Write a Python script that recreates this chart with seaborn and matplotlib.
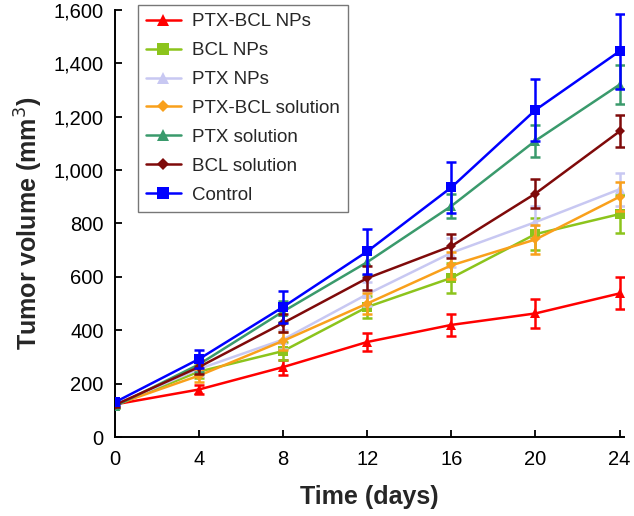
import numpy as np
import pandas as pd
import matplotlib
matplotlib.use('Agg')
import matplotlib.pyplot as plt
import seaborn as sns
from matplotlib.ticker import FuncFormatter

days = [0, 4, 8, 12, 16, 20, 24]
groups = ['PTX-BCL NPs', 'BCL NPs', 'PTX NPs', 'PTX-BCL solution',
          'PTX solution', 'BCL solution', 'Control']

ptx_bcl_nps = [122, 178, 262, 356, 420, 463, 538]
ptx_bcl_nps_err = [8, 18, 28, 35, 40, 55, 60]
bcl_nps = [118, 245, 322, 487, 596, 760, 835]
bcl_nps_err = [8, 25, 35, 40, 55, 60, 70]
ptx_nps = [120, 255, 365, 535, 690, 805, 928]
ptx_nps_err = [8, 25, 35, 45, 55, 60, 62]
ptx_bcl_sol = [120, 230, 360, 500, 643, 740, 900]
ptx_bcl_sol_err = [8, 25, 35, 40, 50, 55, 55]
ptx_sol = [115, 272, 470, 655, 865, 1110, 1320]
ptx_sol_err = [8, 30, 40, 50, 45, 60, 72]
bcl_sol = [120, 262, 427, 595, 715, 912, 1145]
bcl_sol_err = [8, 25, 35, 45, 45, 55, 60]
control = [130, 292, 487, 695, 935, 1225, 1445]
control_err = [10, 35, 60, 85, 95, 115, 140]

values = [ptx_bcl_nps, bcl_nps, ptx_nps, ptx_bcl_sol, ptx_sol, bcl_sol, control]
errors = [ptx_bcl_nps_err, bcl_nps_err, ptx_nps_err, ptx_bcl_sol_err,
          ptx_sol_err, bcl_sol_err, control_err]
colors = ['#ff0000', '#8cc41c', '#c8c8f2', '#f9a01b', '#3a9a6c', '#7f0a0a', '#0000ff']
markers = ['^', 's', '^', 'D', '^', 'D', 's']

df = pd.DataFrame({
    'day': days * len(groups),
    'volume': sum(values, []),
    'err': sum(errors, []),
    'group': [g for g in groups for _ in days],
})

sns.set_style('white')
plt.rcParams['font.family'] = ['Liberation Sans', 'DejaVu Sans']

fig = plt.figure(figsize=(6.34, 5.16), dpi=100)
ax = fig.add_axes([0.181, 0.153, 0.803, 0.828])

for i, g in enumerate(groups):
    sub = df[df['group'] == g]
    ax.errorbar(sub['day'], sub['volume'], yerr=sub['err'], fmt='none',
                ecolor=colors[i], elinewidth=1.8, capsize=3.5, capthick=1.8,
                zorder=2 + i)
    sns.lineplot(data=sub, x='day', y='volume', color=colors[i],
                 marker=markers[i], markersize=7 if markers[i] != 'D' else 5.5,
                 markeredgewidth=0, linewidth=1.8, label=g, ax=ax,
                 zorder=3 + i)

ax.set_xlim(0, 24.2)
ax.set_ylim(0, 1600)
ax.set_xticks(days)
ax.set_yticks(range(0, 1601, 200))
ax.yaxis.set_major_formatter(FuncFormatter(lambda v, p: f'{int(v):,}'))
ax.tick_params(direction='in', length=5, width=1.3, labelsize=14.5, colors='black',
               bottom=True, left=True)
ax.tick_params(axis='y', pad=8)
ax.tick_params(axis='x', pad=9)
for s in ['top', 'right']:
    ax.spines[s].set_visible(False)
for s in ['left', 'bottom']:
    ax.spines[s].set_linewidth(1.4)
    ax.spines[s].set_color('black')

ax.set_xlabel('Time (days)', fontsize=18, fontweight='bold', labelpad=12)
ax.set_ylabel('Tumor volume (mm$^3$)', fontsize=18, fontweight='bold', labelpad=6)

leg = ax.legend(loc='upper left', bbox_to_anchor=(0.045, 1.012), fontsize=13.5,
                frameon=True, fancybox=False, edgecolor='#555555',
                handlelength=1.85, handletextpad=0.6, labelspacing=0.63,
                borderpad=0.45, borderaxespad=0, markerscale=1.15)
leg.get_frame().set_linewidth(1.0)

fig.savefig('out.png', dpi=100)
